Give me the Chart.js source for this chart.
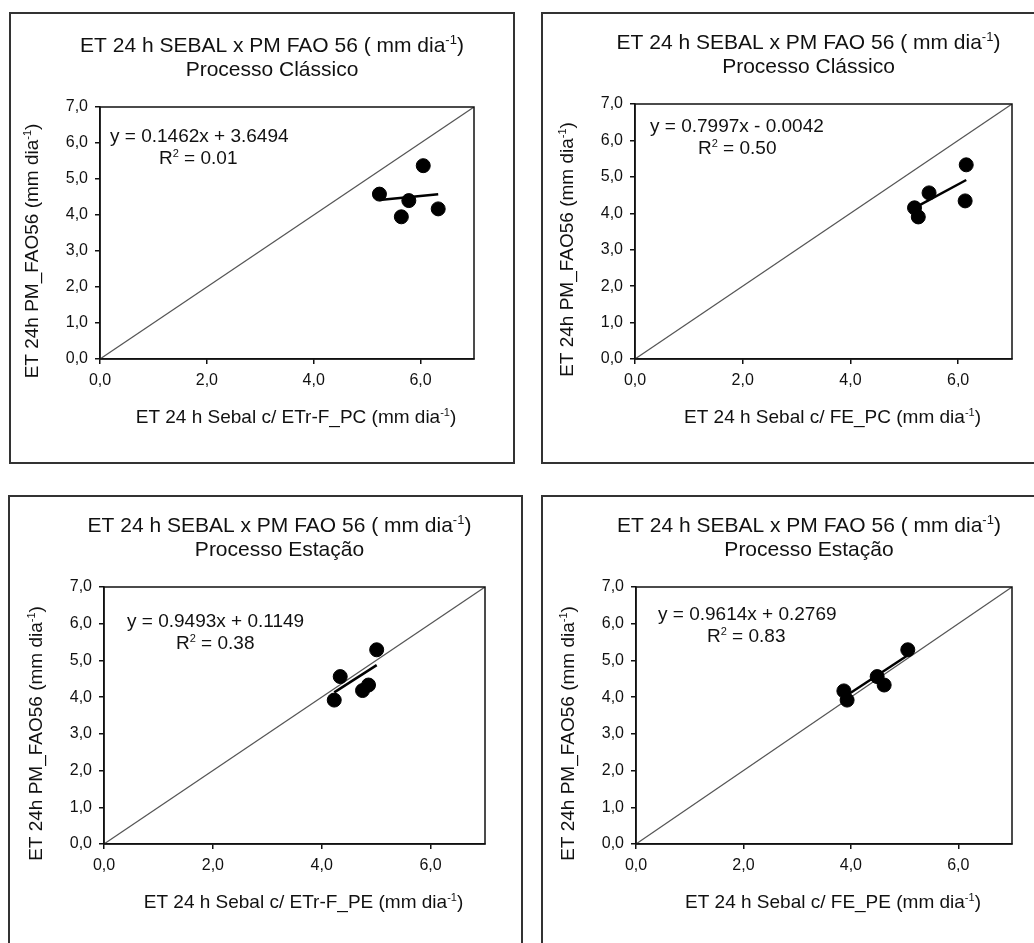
<!DOCTYPE html>
<html>
<head>
<meta charset="utf-8">
<script src="https://cdn.jsdelivr.net/npm/chart.js@4.4.0/dist/chart.umd.min.js"></script>
<style>
  html, body { margin: 0; padding: 0; background: #fff; overflow: hidden; }
  body { width: 1034px; height: 943px; position: relative; }
  .panel { position: absolute; }
  .panel canvas { position: absolute; left: 0; top: 0; }
  .frame { position: absolute; left: 0; top: 0; right: 0; bottom: 0; border: 2px solid #333; box-sizing: border-box; pointer-events: none; }
</style>
</head>
<body>
<div class="panel" id="p0" style="left:9px;top:12px;width:506px;height:452px"><canvas id="c0"></canvas><div class="frame"></div></div>
<div class="panel" id="p1" style="left:541px;top:12px;width:520px;height:452px"><canvas id="c1"></canvas><div class="frame"></div></div>
<div class="panel" id="p2" style="left:8px;top:495px;width:515px;height:470px"><canvas id="c2"></canvas><div class="frame"></div></div>
<div class="panel" id="p3" style="left:541px;top:495px;width:520px;height:470px"><canvas id="c3"></canvas><div class="frame"></div></div>

<script>
// data
const subtitles = ["Processo Clássico", "Processo Clássico", "Processo Estação", "Processo Estação"];
const xAxisNames = ["ETr-F_PC", "FE_PC", "ETr-F_PE", "FE_PE"];

const xValues1 = [5.23, 5.64, 5.78, 6.05, 6.33];
const yValues1 = [4.58, 3.95, 4.40, 5.37, 4.17];
const xValues2 = [5.19, 5.26, 5.46, 6.15, 6.13];
const yValues2 = [4.15, 3.90, 4.56, 5.33, 4.34];
const xValues3 = [4.23, 4.34, 4.75, 4.86, 5.01];
const yValues3 = [3.92, 4.56, 4.18, 4.33, 5.29];
const xValues4 = [3.87, 3.93, 4.49, 4.62, 5.06];
const yValues4 = [4.17, 3.92, 4.56, 4.33, 5.29];

const slopes = [0.1462, 0.7997, 0.9493, 0.9614];
const intercepts = [3.6494, -0.0042, 0.1149, 0.2769];
const equations = ["y = 0.1462x + 3.6494", "y = 0.7997x - 0.0042", "y = 0.9493x + 0.1149", "y = 0.9614x + 0.2769"];
const r2Values = ["0.01", "0.50", "0.38", "0.83"];

const xTicks = [0, 2, 4, 6];
const yTicks = [0, 1, 2, 3, 4, 5, 6, 7];
const axisMax = 7;

const xSets = [xValues1, xValues2, xValues3, xValues4];
const ySets = [yValues1, yValues2, yValues3, yValues4];

// layout (pixels inside each panel)
const FONT = "'Liberation Sans', Arial, sans-serif";
const sizes = [[506, 452], [520, 452], [515, 470], [520, 470]];
const areas = [ // left, top, right, bottom of the plot box
  [91, 95, 465, 347],
  [94, 92, 471, 347],
  [96, 92, 477, 349],
  [95, 92, 471, 349],
];
const eqOffsets = [[10, 35, 59, 57], [15, 28, 63, 50], [23, 40, 72, 62], [22, 33, 71, 55]];

function comma(v) {
  return v.toFixed(1).replace(".", ",");
}

// draws text with optional superscript parts
function drawRich(ctx, parts, x, y, size, align) {
  const supSize = Math.round(size * 0.6);
  let total = 0;
  parts.forEach((p) => {
    ctx.font = (p.sup ? supSize : size) + "px " + FONT;
    p.w = ctx.measureText(p.t).width;
    total += p.w;
  });
  let cx = align === "center" ? x - total / 2 : x;
  ctx.textAlign = "left";
  ctx.textBaseline = "alphabetic";
  parts.forEach((p) => {
    ctx.font = (p.sup ? supSize : size) + "px " + FONT;
    ctx.fillText(p.t, cx, p.sup ? y - size * 0.38 : y);
    cx += p.w;
  });
}

const textPlugin = {
  id: "panelText",
  afterDraw(chart, args, opts) {
    const ctx = chart.ctx;
    const ca = chart.chartArea;
    const i = opts.index;
    ctx.save();
    ctx.fillStyle = "#111";

    // plot box
    ctx.strokeStyle = "#111";
    ctx.lineWidth = 1.5;
    ctx.strokeRect(ca.left, ca.top, ca.right - ca.left, ca.bottom - ca.top);

    const mid = (ca.left + ca.right) / 2;
    drawRich(ctx, [{ t: "ET 24 h SEBAL x PM FAO 56 ( mm dia" }, { t: "-1", sup: true }, { t: ")" }],
      mid - 15, ca.top - 55, 21, "center");
    drawRich(ctx, [{ t: subtitles[i] }], mid - 15, ca.top - 31, 21, "center");

    drawRich(ctx, [{ t: "ET 24 h Sebal c/ " + xAxisNames[i] + " (mm dia" }, { t: "-1", sup: true }, { t: ")" }],
      mid + 9, ca.bottom + 64, 19, "center");

    ctx.save();
    ctx.translate(ca.left - 62, (ca.top + ca.bottom) / 2 + 18);
    ctx.rotate(-Math.PI / 2);
    drawRich(ctx, [{ t: "ET 24h PM_FAO56 (mm dia" }, { t: "-1", sup: true }, { t: ")" }], 0, 0, 19, "center");
    ctx.restore();

    const e = eqOffsets[i];
    drawRich(ctx, [{ t: equations[i] }], ca.left + e[0], ca.top + e[1], 19, "left");
    drawRich(ctx, [{ t: "R" }, { t: "2", sup: true }, { t: " = " + r2Values[i] }], ca.left + e[2], ca.top + e[3], 19, "left");
    ctx.restore();
  },
};

function makeChart(i) {
  const [W, H] = sizes[i];
  const [L, T, R, B] = areas[i];
  const yW = 40, xH = 30;
  const canvas = document.getElementById("c" + i);
  canvas.width = W;
  canvas.height = H;

  const pts = xSets[i].map((x, k) => ({ x: x, y: ySets[i][k] }));
  const xmin = Math.min(...xSets[i]);
  const xmax = Math.max(...xSets[i]);
  const fit = [
    { x: xmin, y: slopes[i] * xmin + intercepts[i] },
    { x: xmax, y: slopes[i] * xmax + intercepts[i] },
  ];
  const oneToOne = [{ x: 0, y: 0 }, { x: axisMax, y: axisMax }];

  const axisStyle = {
    type: "linear",
    min: 0,
    max: axisMax,
    grid: { display: true, drawOnChartArea: false, drawTicks: true, tickLength: 5, color: "#111", lineWidth: 1.5 },
    border: { display: true, color: "#111", width: 1.5 },
  };

  return new Chart(canvas.getContext("2d"), {
    type: "scatter",
    data: {
      datasets: [
        { data: pts, backgroundColor: "#000", borderColor: "#000", pointRadius: 7, pointHoverRadius: 7, order: 0 },
        { type: "line", data: fit, borderColor: "#000", borderWidth: 2.5, pointRadius: 0, fill: false, order: 1 },
        { type: "line", data: oneToOne, borderColor: "#555", borderWidth: 1.2, pointRadius: 0, fill: false, order: 2 },
      ],
    },
    options: {
      responsive: false,
      animation: false,
      events: [],
      layout: { padding: { left: L - yW, top: T, right: W - R, bottom: H - B - xH } },
      plugins: { legend: { display: false }, tooltip: { enabled: false }, title: { display: false }, panelText: { index: i } },
      scales: {
        x: Object.assign({}, axisStyle, {
          afterFit: (s) => { s.height = xH; },
          afterBuildTicks: (s) => { s.ticks = xTicks.map((v) => ({ value: v })); },
          ticks: { color: "#111", padding: 7, font: { family: FONT, size: 16 }, callback: (v) => comma(v) },
        }),
        y: Object.assign({}, axisStyle, {
          afterFit: (s) => { s.width = yW; },
          afterBuildTicks: (s) => { s.ticks = yTicks.map((v) => ({ value: v })); },
          ticks: { color: "#111", padding: 7, font: { family: FONT, size: 16 }, callback: (v) => comma(v) },
        }),
      },
    },
    plugins: [textPlugin],
  });
}

[0, 1, 2, 3].forEach(makeChart);
</script>
</body>
</html>
